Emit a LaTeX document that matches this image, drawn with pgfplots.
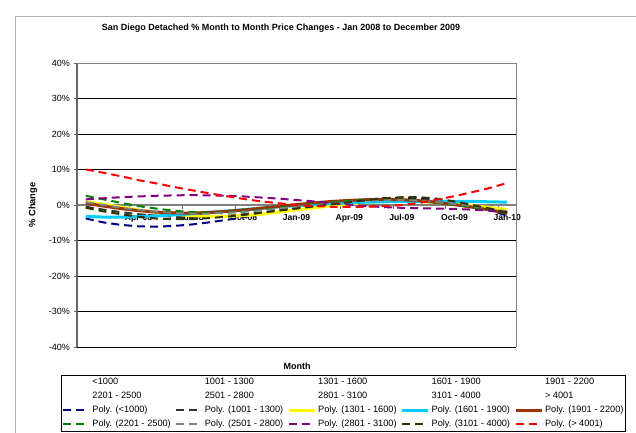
\documentclass[border=0pt]{standalone}
\usepackage{fontspec}
\setmainfont{Liberation Sans}
\usepackage{pgfplots}
\pgfplotsset{compat=1.18}
\definecolor{cnavy}{HTML}{000080}
\definecolor{cdgray}{HTML}{333333}
\definecolor{cyellow}{HTML}{FFFF00}
\definecolor{ccyan}{HTML}{00CCFF}
\definecolor{cbrown}{HTML}{993300}
\definecolor{cgreen}{HTML}{008000}
\definecolor{cgray}{HTML}{808080}
\definecolor{cpurple}{HTML}{800080}
\definecolor{colive}{HTML}{333300}
\definecolor{cred}{HTML}{FF0000}
\begin{document}
\begin{tikzpicture}[x=1pt,y=1pt]
\path[use as bounding box] (0,0) rectangle (636,432);
\draw[gray!60, line width=0.8pt] (15,-5) -- (15,416) -- (645,416);
\node[font=\bfseries\fontsize{9}{11}\selectfont] at (281,404) {San Diego Detached \% Month to Month Price Changes - Jan 2008 to December 2009};
\node[font=\bfseries\fontsize{9.3}{11}\selectfont, rotate=90] at (33,227) {\% Change};
\node[font=\bfseries\fontsize{9}{11}\selectfont] at (297,66) {Month};
\begin{axis}[
  at={(77pt,85pt)}, anchor=south west,
  scale only axis, width=439pt, height=284pt,
  xmin=-0.5, xmax=24.5, ymin=-40, ymax=40,
  axis x line=middle, axis y line=left,
  axis line style={-},
  x axis line style={gray, line width=1.5pt},
  y axis line style={gray!80!black, line width=2pt},
  xtick={-0.5,2.5,...,23.5},
  xticklabels={Jan-08,Apr-08,Jul-08,Oct-08,Jan-09,Apr-09,Jul-09,Oct-09,Jan-10},
  xticklabel style={font=\bfseries\fontsize{8.6}{10}\selectfont, xshift=8.8pt, yshift=-2pt},
  ytick={-40,-30,...,40},
  yticklabels={-40\%,-30\%,-20\%,-10\%,0\%,10\%,20\%,30\%,40\%},
  yticklabel style={font=\fontsize{9}{10}\selectfont},
  tick align=outside, major tick length=3.5pt,
  tick style={gray!80!black, line width=0.8pt},
  ymajorgrids, grid style={black, line width=0.8pt},
  legend columns=5,
  legend image code/.code={\draw[#1] (0pt,0pt) -- (26pt,0pt);},
  legend style={at={(axis description cs:-0.0364,-0.0986)}, anchor=north west,
    draw=black, line width=0.8pt, font=\fontsize{9.2}{11}\selectfont,
    inner xsep=1pt, inner ysep=1.5pt,
    nodes={inner sep=1pt, text height=7pt, text depth=2pt},
    row sep=3pt,
    /tikz/every odd column/.append style={column sep=1pt},
    /tikz/every even column/.append style={column sep=3pt}},
  legend cell align=left,
  every axis plot/.append style={line join=round},
  after end axis/.code={\draw[gray, line width=0.8pt] (rel axis cs:0,1) -- (rel axis cs:1,1) -- (rel axis cs:1,0);}
]
\addlegendimage{white}\addlegendimage{white}\addlegendimage{white}\addlegendimage{white}\addlegendimage{white}
\addlegendimage{white}\addlegendimage{white}\addlegendimage{white}\addlegendimage{white}\addlegendimage{white}
% Poly. (<1000)
\addplot[cnavy, line width=2pt, dash pattern=on 8pt off 5pt] coordinates {
(0,-3.8)(1,-4.9)(2,-5.6)(3,-6.0)(4,-6.1)(5,-5.9)(6,-5.5)(7,-4.9)(8,-4.2)(9,-3.4)(10,-2.6)(11,-1.8)(12,-1.0)
(13,-0.3)(14,0.4)(15,1.0)(16,1.5)(17,1.9)(18,2.0)(19,1.8)(20,1.3)(21,0.6)(22,-0.4)(23,-1.5)(24,-3.0)};
% Poly. (1001 - 1300)
\addplot[cdgray, line width=2pt, dash pattern=on 8pt off 5pt] coordinates {
(0,-0.5)(1,-1.3)(2,-2.0)(3,-2.6)(4,-3.0)(5,-3.3)(6,-3.4)(7,-3.3)(8,-3.0)(9,-2.6)(10,-2.1)(11,-1.5)(12,-0.9)
(13,-0.3)(14,0.3)(15,0.8)(16,1.2)(17,1.5)(18,1.6)(19,1.5)(20,1.1)(21,0.5)(22,-0.3)(23,-1.2)(24,-2.4)};
% Poly. (1301 - 1600)
\addplot[cyellow, line width=3pt] coordinates {
(0,1.0)(1,0.2)(2,-0.6)(3,-1.4)(4,-2.1)(5,-2.6)(6,-3.0)(7,-3.2)(8,-3.2)(9,-3.0)(10,-2.6)(11,-2.0)(12,-1.4)
(13,-0.8)(14,-0.2)(15,0.3)(16,0.7)(17,1.0)(18,1.1)(19,1.0)(20,0.7)(21,0.3)(22,-0.2)(23,-0.7)(24,-1.3)};
% Poly. (1601 - 1900)
\addplot[ccyan, line width=3pt] coordinates {
(0,-3.2)(1,-3.4)(2,-3.4)(3,-3.3)(4,-3.1)(5,-2.8)(6,-2.5)(7,-2.1)(8,-1.7)(9,-1.3)(10,-0.9)(11,-0.5)(12,-0.2)
(13,0.1)(14,0.4)(15,0.6)(16,0.8)(17,0.9)(18,1.0)(19,1.0)(20,1.0)(21,1.0)(22,1.0)(23,0.9)(24,0.8)};
% Poly. (1901 - 2200)
\addplot[cbrown, line width=3pt] coordinates {
(0,0.5)(1,-0.3)(2,-1.0)(3,-1.6)(4,-2.0)(5,-2.2)(6,-2.3)(7,-2.1)(8,-1.8)(9,-1.4)(10,-0.9)(11,-0.4)(12,0.1)
(13,0.6)(14,1.0)(15,1.3)(16,1.5)(17,1.6)(18,1.5)(19,1.2)(20,0.7)(21,0.1)(22,-0.6)(23,-1.4)(24,-2.3)};
% Poly. (2201 - 2500)
\addplot[cgreen, line width=2pt, dash pattern=on 8pt off 5pt] coordinates {
(0,2.6)(1,1.6)(2,0.6)(3,-0.3)(4,-1.0)(5,-1.6)(6,-2.0)(7,-2.2)(8,-2.1)(9,-1.8)(10,-1.3)(11,-0.8)(12,-0.2)
(13,0.3)(14,0.8)(15,1.2)(16,1.5)(17,1.6)(18,1.5)(19,1.2)(20,0.7)(21,0.1)(22,-0.6)(23,-1.4)(24,-2.2)};
% Poly. (2501 - 2800)
\addplot[cgray, line width=2pt, dash pattern=on 8pt off 5pt] coordinates {
(0,0.8)(1,0.0)(2,-0.8)(3,-1.4)(4,-1.9)(5,-2.2)(6,-2.4)(7,-2.4)(8,-2.2)(9,-1.9)(10,-1.5)(11,-1.0)(12,-0.5)
(13,0.0)(14,0.5)(15,0.9)(16,1.2)(17,1.4)(18,1.4)(19,1.2)(20,0.8)(21,0.3)(22,-0.3)(23,-1.0)(24,-1.8)};
% Poly. (2801 - 3100)
\addplot[cpurple, line width=2pt, dash pattern=on 8pt off 5pt] coordinates {
(0,1.6)(1,1.9)(2,2.2)(3,2.4)(4,2.6)(5,2.7)(6,2.8)(7,2.7)(8,2.6)(9,2.4)(10,2.1)(11,1.8)(12,1.4)
(13,1.0)(14,0.5)(15,0.1)(16,-0.3)(17,-0.6)(18,-0.8)(19,-0.9)(20,-1.0)(21,-1.1)(22,-1.3)(23,-1.6)(24,-2.0)};
% Poly. (3101 - 4000)
\addplot[colive, line width=2pt, dash pattern=on 8pt off 5pt] coordinates {
(0,-0.8)(1,-1.8)(2,-2.6)(3,-3.3)(4,-3.8)(5,-4.0)(6,-4.0)(7,-3.7)(8,-3.3)(9,-2.8)(10,-2.2)(11,-1.6)(12,-1.0)
(13,-0.4)(14,0.2)(15,0.8)(16,1.4)(17,1.9)(18,2.2)(19,2.2)(20,1.8)(21,1.0)(22,0.0)(23,-1.0)(24,-2.2)};
% Poly. (> 4001)
\addplot[cred, line width=2pt, dash pattern=on 8pt off 5pt] coordinates {
(0,10.0)(1,9.1)(2,8.1)(3,7.0)(4,6.1)(5,5.1)(6,4.2)(7,3.3)(8,2.5)(9,1.7)(10,1.0)(11,0.5)(12,0.0)
(13,-0.3)(14,-0.5)(15,-0.5)(16,-0.5)(17,-0.3)(18,0.0)(19,0.6)(20,1.5)(21,2.5)(22,3.6)(23,4.8)(24,6.2)};
\legend{<1000,1001 - 1300,1301 - 1600,1601 - 1900,1901 - 2200,
2201 - 2500,2501 - 2800,2801 - 3100,3101 - 4000,> 4001,
Poly. (<1000),Poly. (1001 - 1300),Poly. (1301 - 1600),Poly. (1601 - 1900),Poly. (1901 - 2200),
Poly. (2201 - 2500),Poly. (2501 - 2800),Poly. (2801 - 3100),Poly. (3101 - 4000),Poly. (> 4001)}
\end{axis}
\end{tikzpicture}
\end{document}
